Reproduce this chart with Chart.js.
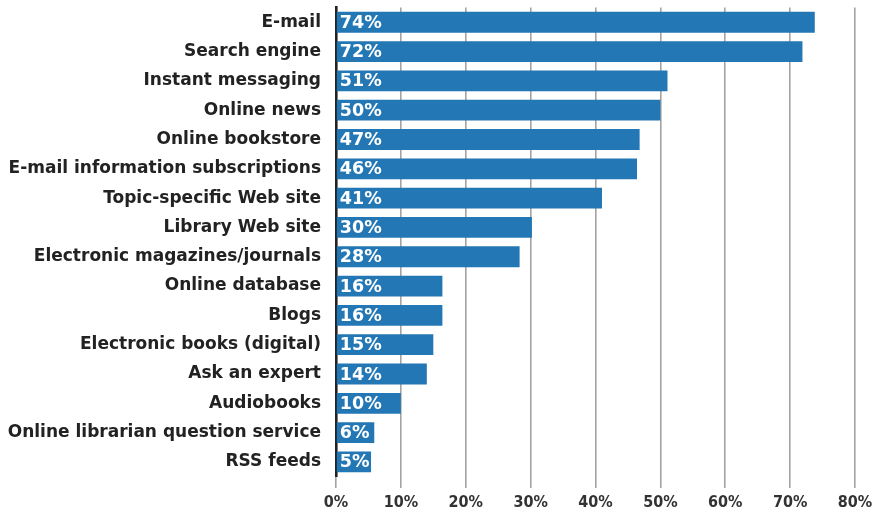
<!DOCTYPE html>
<html>
<head>
<meta charset="utf-8">
<script src="https://cdn.jsdelivr.net/npm/chart.js@4/dist/chart.umd.min.js"></script>
<style>
  html, body { margin: 0; padding: 0; background: #ffffff; }
  #wrap { width: 880px; height: 514px; position: relative; }
</style>
</head>
<body>
<div id="wrap"><canvas id="c"></canvas></div>
<script>
const categories = [
  "E-mail", "Search engine", "Instant messaging", "Online news", "Online bookstore",
  "E-mail information subscriptions", "Topic-specific Web site", "Library Web site",
  "Electronic magazines/journals", "Online database", "Blogs", "Electronic books (digital)",
  "Ask an expert", "Audiobooks", "Online librarian question service", "RSS feeds"
];
const values = [73.8, 71.9, 51.1, 50.0, 46.8, 46.4, 41.0, 30.2, 28.3, 16.4, 16.4, 15.0, 14.0, 10.0, 5.9, 5.4];
const xTicks = [0, 10, 20, 30, 40, 50, 60, 70, 80];

const barColor = "#2277b4";

const barLabelPlugin = {
  id: "barLabels",
  afterDatasetsDraw(chart) {
    const ctx = chart.ctx;
    const meta = chart.getDatasetMeta(0);
    ctx.save();
    ctx.fillStyle = "#ffffff";
    ctx.font = "bold 17.5px 'DejaVu Sans'";
    ctx.textAlign = "left";
    ctx.textBaseline = "middle";
    meta.data.forEach((bar, i) => {
      ctx.fillText(Math.round(values[i]) + "%", bar.base + 3, bar.y + 1);
    });
    ctx.restore();
  }
};

new Chart(document.getElementById("c"), {
  type: "bar",
  data: {
    labels: categories,
    datasets: [{
      data: values,
      backgroundColor: barColor,
      borderWidth: 0,
      categoryPercentage: 1.0,
      barPercentage: 0.71
    }]
  },
  options: {
    indexAxis: "y",
    responsive: true,
    maintainAspectRatio: false,
    animation: false,
    layout: { padding: { top: 7.6, right: 25, bottom: 0, left: 0 } },
    plugins: { legend: { display: false }, tooltip: { enabled: false } },
    scales: {
      x: {
        type: "linear",
        min: 0,
        max: 80,
        afterBuildTicks(scale) { scale.ticks = xTicks.map(v => ({ value: v })); },
        afterFit(scale) {
          scale.height = 37.4;
          scale.paddingLeft = 0; scale.paddingRight = 0;
          scale.paddingTop = 0; scale.paddingBottom = 0;
        },
        grid: {
          color: "#a3a3a3",
          lineWidth: 1.6,
          drawTicks: true,
          tickLength: 11.5,
          tickColor: "#a3a3a3"
        },
        border: { display: false },
        ticks: {
          padding: 5,
          color: "#333333",
          font: { family: "'DejaVu Sans Condensed', 'DejaVu Sans'", weight: "bold", size: 16 },
          callback: (v) => v + "%"
        }
      },
      y: {
        type: "category",
        afterFit(scale) {
          scale.width = 336;
          scale.paddingTop = 0; scale.paddingBottom = 0;
          scale.paddingLeft = 0; scale.paddingRight = 0;
        },
        grid: { display: false, drawTicks: false },
        border: { display: true, color: "#222222", width: 2.6 },
        ticks: {
          padding: 15,
          color: "#222222",
          font: { family: "'DejaVu Sans'", weight: "bold", size: 17 }
        }
      }
    }
  },
  plugins: [barLabelPlugin]
});
</script>
</body>
</html>
